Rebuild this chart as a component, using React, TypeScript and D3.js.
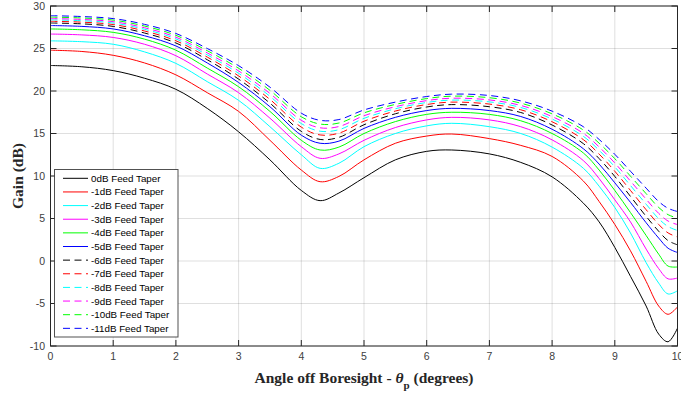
import React from 'react';
import * as d3 from 'd3';

const theta = [0, 0.5, 1, 1.5, 2, 2.5, 3, 3.5, 4, 4.3, 4.6, 5, 5.5, 6, 6.4, 7, 7.5, 8, 8.5, 8.75, 9, 9.25, 9.5, 9.7, 9.85, 10];

const taper0 = [23.0, 22.85, 22.4, 21.5, 20.2, 17.95, 15.2, 11.9, 8.3, 7.1, 8.0, 9.8, 11.9, 12.9, 13.06, 12.6, 11.6, 9.9, 6.8, 4.6, 1.6, -1.8, -5.3, -8.6, -9.5, -7.9];
const taper1 = [24.8, 24.65, 24.2, 23.3, 21.9, 19.8, 17.6, 14.2, 10.7, 9.33, 9.95, 11.9, 13.85, 14.7, 14.94, 14.4, 13.6, 12.3, 9.4, 7.0, 4.3, 1.2, -2.4, -5.3, -6.27, -5.4];
const taper2 = [25.9, 25.8, 25.5, 24.6, 23.25, 21.1, 18.9, 15.8, 12.5, 10.9, 11.5, 13.45, 15.0, 15.9, 16.2, 15.8, 15.0, 13.4, 10.9, 8.8, 6.3, 3.3, -0.2, -2.6, -3.88, -3.5];
const taper3 = [26.7, 26.6, 26.3, 25.5, 24.15, 22.0, 19.8, 16.8, 13.45, 12.08, 12.6, 14.2, 15.7, 16.6, 16.9, 16.6, 15.8, 14.25, 11.8, 9.7, 7.2, 4.6, 1.4, -0.9, -2.1, -2.0];
const taper4 = [27.3, 27.2, 26.9, 26.1, 24.8, 22.7, 20.5, 17.6, 14.2, 13.06, 13.4, 15.0, 16.4, 17.25, 17.5, 17.25, 16.5, 15.0, 12.7, 10.7, 8.3, 5.7, 3.0, 0.8, -0.6, -0.7];
const taper5 = [27.7, 27.6, 27.3, 26.5, 25.3, 23.3, 21.0, 18.15, 14.8, 13.85, 14.1, 15.6, 16.9, 17.7, 17.96, 17.7, 17.0, 15.5, 13.2, 11.4, 9.2, 6.9, 4.5, 2.7, 1.5, 1.0];
const taper6 = [28.0, 27.9, 27.6, 26.82, 25.65, 23.68, 21.4, 18.57, 15.25, 14.3, 14.55, 16.03, 17.32, 18.12, 18.4, 18.15, 17.47, 16.0, 13.8, 12.05, 9.95, 7.6, 5.25, 3.5, 2.4, 1.9];
const taper7 = [28.2, 28.1, 27.82, 27.06, 25.91, 23.99, 21.77, 19.01, 15.75, 14.83, 15.04, 16.44, 17.64, 18.41, 18.69, 18.46, 17.79, 16.38, 14.27, 12.58, 10.56, 8.3, 6.03, 4.3, 3.3, 2.82];
const taper8 = [28.37, 28.27, 28.0, 27.26, 26.13, 24.25, 22.08, 19.38, 16.17, 15.27, 15.45, 16.78, 17.91, 18.65, 18.93, 18.72, 18.06, 16.7, 14.66, 13.02, 11.07, 8.88, 6.68, 4.98, 4.05, 3.59];
const taper9 = [28.52, 28.42, 28.16, 27.44, 26.33, 24.48, 22.36, 19.71, 16.55, 15.67, 15.82, 17.09, 18.15, 18.87, 19.15, 18.95, 18.3, 16.99, 15.01, 13.42, 11.53, 9.4, 7.27, 5.6, 4.7, 4.28];
const taper10 = [28.69, 28.59, 28.34, 27.64, 26.55, 24.74, 22.67, 20.08, 16.97, 16.11, 16.23, 17.43, 18.42, 19.11, 19.39, 19.21, 18.57, 17.31, 15.4, 13.86, 12.04, 9.98, 7.92, 6.3, 5.45, 5.05];
const taper11 = [28.86, 28.76, 28.52, 27.84, 26.77, 25.0, 22.98, 20.45, 17.39, 16.55, 16.64, 17.77, 18.69, 19.35, 19.63, 19.47, 18.84, 17.63, 15.79, 14.3, 12.55, 10.56, 8.57, 7.0, 6.2, 5.82];

const seriesValues = [taper0, taper1, taper2, taper3, taper4, taper5, taper6, taper7, taper8, taper9, taper10, taper11];
const seriesNames = [
  '0dB Feed Taper', '-1dB Feed Taper', '-2dB Feed Taper', '-3dB Feed Taper',
  '-4dB Feed Taper', '-5dB Feed Taper', '-6dB Feed Taper', '-7dB Feed Taper',
  '-8dB Feed Taper', '-9dB Feed Taper', '-10dB Feed Taper', '-11dB Feed Taper',
];
const seriesColors = ['#000000', '#ff0000', '#00ffff', '#ff00ff', '#00ff00', '#0000ff',
  '#000000', '#ff0000', '#00ffff', '#ff00ff', '#00ff00', '#0000ff'];
const seriesDashed = [false, false, false, false, false, false, true, true, true, true, true, true];

const xTicks = [0, 1, 2, 3, 4, 5, 6, 7, 8, 9, 10];
const yTicks = [-10, -5, 0, 5, 10, 15, 20, 25, 30];

const W = 681;
const H = 396;
const L = 50.5, R = 677.5, T = 6, B = 346;
const AX = '#262626';
const SANS = '"Liberation Sans", Arial, Helvetica, sans-serif';
const SERIF = '"Liberation Serif", "Times New Roman", serif';

export default function App() {
  const x = d3.scaleLinear().domain([0, 10]).range([L, R]);
  const y = d3.scaleLinear().domain([-10, 30]).range([B, T]);
  const line = d3.line<number>()
    .x((_, i) => x(theta[i]))
    .y((d) => y(d))
    .curve(d3.curveCatmullRom.alpha(0.5));

  const legX = 54.5, legY = 169.5, legW = 123.5, legH = 167.5;
  const rowY0 = 178.3, rowDy = 13.64;

  return (
    <svg width={W} height={H} style={{ position: 'absolute', left: 0, top: 0, background: '#fff' }}>
      <defs>
        <clipPath id="plotclip">
          <rect x={L} y={T} width={R - L} height={B - T} />
        </clipPath>
      </defs>
      <rect x={0} y={0} width={W} height={H} fill="#fff" />
      {xTicks.map((t) => (
        <line key={'gx' + t} x1={x(t)} x2={x(t)} y1={T} y2={B} stroke={AX} strokeOpacity={0.15} strokeWidth={1} />
      ))}
      {yTicks.map((t) => (
        <line key={'gy' + t} x1={L} x2={R} y1={y(t)} y2={y(t)} stroke={AX} strokeOpacity={0.15} strokeWidth={1} />
      ))}
      <g clipPath="url(#plotclip)">
        {seriesValues.map((vals, i) => (
          <path key={'s' + i} d={line(vals) || ''} fill="none" stroke={seriesColors[i]} strokeWidth={1}
            strokeDasharray={seriesDashed[i] ? '7,4.5' : undefined} />
        ))}
      </g>
      <rect x={L} y={T} width={R - L} height={B - T} fill="none" stroke={AX} strokeWidth={1} />
      {xTicks.map((t) => (
        <g key={'tx' + t}>
          <line x1={x(t)} x2={x(t)} y1={B} y2={B - 6} stroke={AX} />
          <line x1={x(t)} x2={x(t)} y1={T} y2={T + 6} stroke={AX} />
          <text x={x(t)} y={B + 14} textAnchor="middle" fontFamily={SANS} fontSize={10.5} fill="#404040">{t}</text>
        </g>
      ))}
      {yTicks.map((t) => (
        <g key={'ty' + t}>
          <line x1={L} x2={L + 6} y1={y(t)} y2={y(t)} stroke={AX} />
          <line x1={R} x2={R - 6} y1={y(t)} y2={y(t)} stroke={AX} />
          <text x={L - 5.5} y={y(t) + 3.8} textAnchor="end" fontFamily={SANS} fontSize={10.5} fill="#404040">{t}</text>
        </g>
      ))}
      <text transform={`translate(23,${(T + B) / 2}) rotate(-90)`} textAnchor="middle" fontFamily={SERIF}
        fontWeight="bold" fontSize={15.5} fill={AX}>Gain (dB)</text>
      <text x={(L + R) / 2} y={383} textAnchor="middle" fontFamily={SERIF} fontWeight="bold" fontSize={15.5} fill={AX}>
        Angle off Boresight - <tspan fontStyle="italic">θ</tspan><tspan dy={6} fontSize={11}>p</tspan><tspan dy={-6}> (degrees)</tspan>
      </text>
      <rect x={legX} y={legY} width={legW} height={legH} fill="#fff" stroke={AX} strokeOpacity={0.8} strokeWidth={1} />
      {seriesNames.map((name, i) => {
        const ry = rowY0 + i * rowDy;
        return (
          <g key={'lg' + i}>
            <line x1={63} x2={88} y1={ry} y2={ry} stroke={seriesColors[i]} strokeWidth={1}
              strokeDasharray={seriesDashed[i] ? '7,4.5' : undefined} />
            <text x={91} y={ry + 3.5} fontFamily={SANS} fontSize={9.8} fill="#000">{name}</text>
          </g>
        );
      })}
    </svg>
  );
}
